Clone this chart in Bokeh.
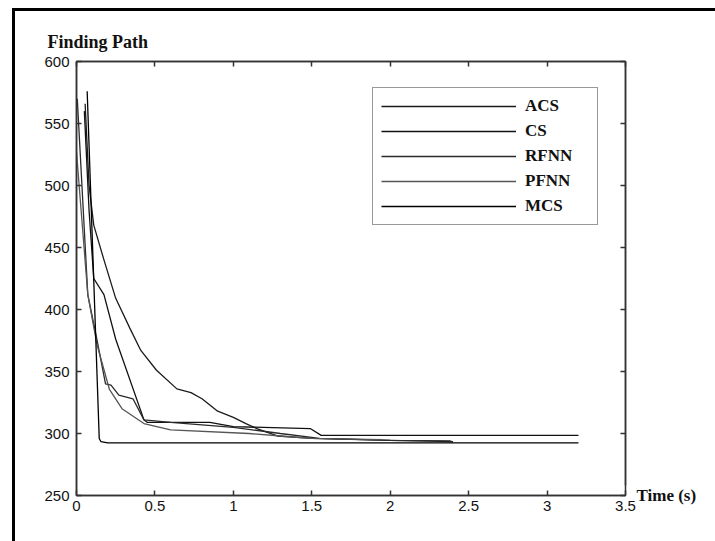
from bokeh.plotting import figure
from bokeh.models import (FixedTicker, LinearAxis, Range1d, Legend, LegendItem, Title)
from bokeh.layouts import column
from bokeh.embed import file_html
from bokeh.resources import INLINE

# ---- data ----
x_ticks = [0, 0.5, 1, 1.5, 2, 2.5, 3, 3.5]
x_tick_labels = ["0", "0.5", "1", "1.5", "2", "2.5", "3", "3.5"]
y_ticks = [250, 300, 350, 400, 450, 500, 550, 600]
y_tick_labels = ["250", "300", "350", "400", "450", "500", "550", "600"]

acs_t = [0.055, 0.08, 0.11, 0.175, 0.25, 0.34, 0.41, 0.51, 0.64, 0.73, 0.8, 0.9,
         1.0, 1.08, 1.15, 1.28, 1.5, 2.0, 2.4]
acs_v = [566, 500, 468, 440, 409, 385, 367, 351, 336, 333, 328, 318,
         313, 308, 304, 298, 296, 294.5, 293.5]

cs_t = [0.05, 0.08, 0.11, 0.175, 0.25, 0.43, 0.45, 0.85, 1.0, 1.49, 1.56, 3.2]
cs_v = [560, 480, 425, 412, 376, 311, 309, 309, 305.5, 304, 298.5, 298.5]

rfnn_t = [0.005, 0.072, 0.13, 0.185, 0.22, 0.27, 0.36, 0.43, 0.6, 1.0, 1.3, 1.55,
          2.0, 2.38, 2.4]
rfnn_v = [570, 412, 376, 340, 339, 331, 328, 311, 309, 305, 300, 296,
          294.5, 294, 293]

pfnn_t = [0.0, 0.072, 0.13, 0.21, 0.29, 0.43, 0.6, 1.1, 1.3, 1.5, 1.95]
pfnn_v = [527, 412, 372, 335.5, 320, 308, 303, 300, 298, 296, 295]

mcs_t = [0.068, 0.145, 0.155, 0.2, 3.2]
mcs_v = [576, 296, 293.5, 292.5, 292.5]

series = [
    ("ACS", acs_t, acs_v, "#1a1a1a"),
    ("CS", cs_t, cs_v, "#111111"),
    ("RFNN", rfnn_t, rfnn_v, "#2a2a2a"),
    ("PFNN", pfnn_t, pfnn_v, "#555555"),
    ("MCS", mcs_t, mcs_v, "#000000"),
]

OFF_L, OFF_T = 12 + 3, 8 + 3
W, H = 715 - OFF_L, 541 - OFF_T
p = figure(width=W, height=H, output_backend="svg", toolbar_location=None,
           x_range=Range1d(0, 3.5), y_range=Range1d(250, 600),
           min_border_left=76 - OFF_L, min_border_right=90, min_border_top=61 - OFF_T,
           min_border_bottom=46)
p.background_fill_color = "white"
p.border_fill_color = "white"
p.grid.visible = False
p.outline_line_color = "#333333"
p.outline_line_width = 1.5

tick_font = "Liberation Sans"

def style_axis(ax, ticks, labels, show_labels=True):
    ax.ticker = FixedTicker(ticks=ticks)
    ax.major_tick_in = 5
    ax.major_tick_out = 0
    ax.minor_tick_line_color = None
    ax.axis_line_color = "#333333"
    ax.axis_line_width = 1.5
    ax.major_tick_line_color = "#333333"
    ax.major_tick_line_width = 1.5
    ax.major_label_text_font = tick_font
    ax.major_label_text_font_size = "15px"
    ax.major_label_text_color = "#111111"
    if show_labels:
        ax.major_label_overrides = {t: l for t, l in zip(ticks, labels)}
    else:
        ax.major_label_overrides = {t: "" for t in ticks}
        ax.major_label_standoff = 0

for ax in p.xaxis:
    style_axis(ax, x_ticks, x_tick_labels)
    ax.major_label_standoff = 5
for ax in p.yaxis:
    style_axis(ax, y_ticks, y_tick_labels)
    ax.major_label_standoff = 7

top_ax = LinearAxis()
style_axis(top_ax, x_ticks, x_tick_labels, show_labels=False)
p.add_layout(top_ax, "above")
right_ax = LinearAxis(bounds=(258, 600))
style_axis(right_ax, y_ticks, y_tick_labels, show_labels=False)
right_ax.axis_label = "Time (s)"
right_ax.axis_label_text_font = "Liberation Serif"
right_ax.axis_label_text_font_style = "bold"
right_ax.axis_label_text_font_size = "17px"
right_ax.axis_label_text_color = "#111111"
right_ax.axis_label_standoff = 11
try:
    right_ax.axis_label_orientation = "horizontal"
except Exception:
    pass
try:
    right_ax.axis_label_align = "start"
except Exception:
    pass
p.add_layout(right_ax, "right")

items = []
for name, t, v, col in series:
    r = p.line(t, v, line_color=col, line_width=1.3)
    items.append(LegendItem(label=name, renderers=[r]))

legend = Legend(items=items, location=(296, 270))
legend.label_text_font = "Liberation Serif"
legend.label_text_font_style = "bold"
legend.label_text_font_size = "17px"
legend.label_text_color = "#111111"
legend.glyph_width = 135
legend.glyph_height = 20
legend.label_height = 20
legend.label_width = 64
legend.label_standoff = 9
legend.spacing = 5
legend.padding = 8
legend.margin = 0
legend.border_line_color = "#333333"
legend.border_line_width = 1.5
legend.background_fill_color = "white"
p.add_layout(legend, "center")

p.add_layout(Title(text="Finding Path", align="left", offset=-29,
                   text_font="Liberation Serif", text_font_style="bold",
                   text_font_size="18px", text_color="#111111", standoff=20), "above")

lay = column(p, margin=(8, 0, 0, 12),
             styles={"border-left": "3px solid black", "border-top": "3px solid black"})

open("out.html", "w").write(file_html(lay, INLINE))
